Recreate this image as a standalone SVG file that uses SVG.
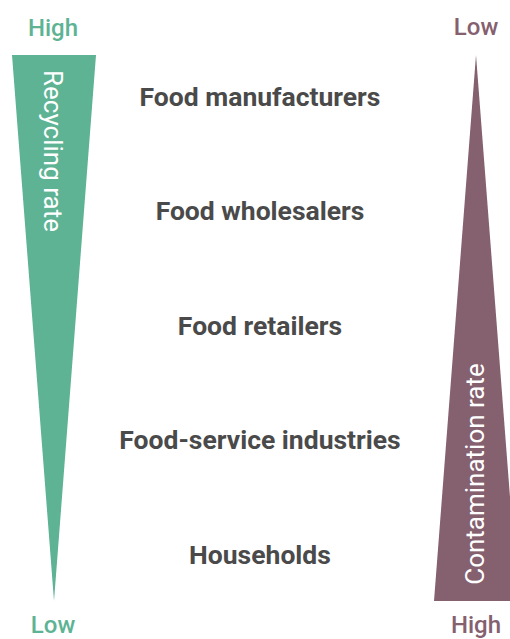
<svg xmlns="http://www.w3.org/2000/svg" width="510" height="639" viewBox="0 0 510 639">
<style>
.g{fill:#5db394}
.p{fill:#85606f}
.end{font-family:Roboto,"Liberation Sans",sans-serif;font-size:24px;font-weight:500;text-anchor:middle}
.axis{font-family:Roboto,"Liberation Sans",sans-serif;font-size:26px;fill:#ffffff;text-anchor:middle}
.lbl{font-family:Roboto,"Liberation Sans",sans-serif;font-size:26.5px;font-weight:bold;fill:#4a4a4a;text-anchor:middle}
</style>
<rect width="510" height="639" fill="#ffffff"/>
<g id="recycling">
<polygon class="g" points="12,55 96,55 54,601"/>
<text class="end g" x="53" y="36">High</text>
<text class="end g" x="53" y="633">Low</text>
<text class="axis" transform="translate(44,151) rotate(90)">Recycling rate</text>
</g>
<g id="contamination">
<polygon class="p" points="476,55 518,601 434,601"/>
<text class="end p" x="476" y="35">Low</text>
<text class="end p" x="476" y="633">High</text>
<text class="axis" transform="translate(484,474) rotate(-90)">Contamination rate</text>
</g>
<g id="labels">
<text class="lbl" x="260" y="106">Food manufacturers</text>
<text class="lbl" x="260" y="220">Food wholesalers</text>
<text class="lbl" x="260" y="335">Food retailers</text>
<text class="lbl" x="260" y="449">Food-service industries</text>
<text class="lbl" x="260" y="564">Households</text>
</g>
</svg>
